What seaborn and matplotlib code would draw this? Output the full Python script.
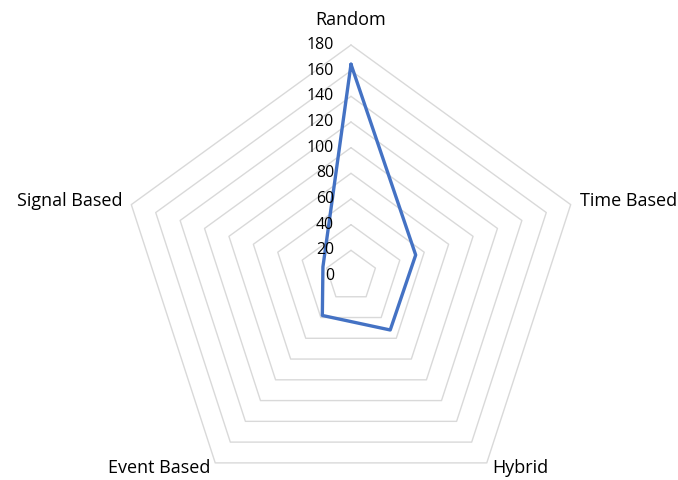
import numpy as np
import pandas as pd
import matplotlib
matplotlib.use("Agg")
import matplotlib.pyplot as plt
import seaborn as sns

# Data
categories = ["Random", "Time Based", "Hybrid", "Event Based", "Signal Based"]
values = [165, 53, 52, 38, 23]
ticks = [0, 20, 40, 60, 80, 100, 120, 140, 160, 180]
rmax = 180

sns.set_theme(style="white")
plt.rcParams["font.family"] = ["Open Sans", "DejaVu Sans"]

# angles: first axis straight up, going clockwise
n = len(categories)
angles = np.pi / 2 - np.arange(n) * 2 * np.pi / n
closed = np.append(angles, angles[0])

# pixel scale: 180 units = 231 px, centre at (351, 276) px
scale = 231 / rmax
cx, cy = 351, 276
W, H = 678, 480

fig = plt.figure(figsize=(6.78, 4.8), dpi=100)
ax = fig.add_axes([0, 0, 1, 1])
ax.set_xlim(-cx / scale, (W - cx) / scale)
ax.set_ylim(-(H - cy) / scale, cy / scale)
ax.axis("off")

# pentagon gridlines
for t in ticks[1:]:
    ax.plot(t * np.cos(closed), t * np.sin(closed), color="#d9d9d9", lw=1.0, zorder=1)

# data polygon (closed)
vals = np.array(values + values[:1], dtype=float)
df = pd.DataFrame({
    "x": vals * np.cos(closed),
    "y": vals * np.sin(closed),
    "order": np.arange(len(vals)),
})
sns.lineplot(data=df, x="x", y="y", sort=False, estimator=None, units=None,
             color="#4472C4", lw=2.4, ax=ax, zorder=3)

# radial tick labels
for t in ticks:
    ax.text(-17 / scale, t, str(t), ha="right", va="center", fontsize=11.4, color="black")

# category labels
label_pos = {
    "Random": (0, 256 / scale, "center", "center"),
    "Time Based": (229 / scale, 75 / scale, "left", "center"),
    "Signal Based": (-229 / scale, 75 / scale, "right", "center"),
    "Hybrid": (141 / scale, -192 / scale, "left", "center"),
    "Event Based": (-141 / scale, -192 / scale, "right", "center"),
}
for c in categories:
    x, y, ha, va = label_pos[c]
    ax.text(x, y, c, ha=ha, va=va, fontsize=13, color="black")

fig.savefig("out.png", dpi=100)
